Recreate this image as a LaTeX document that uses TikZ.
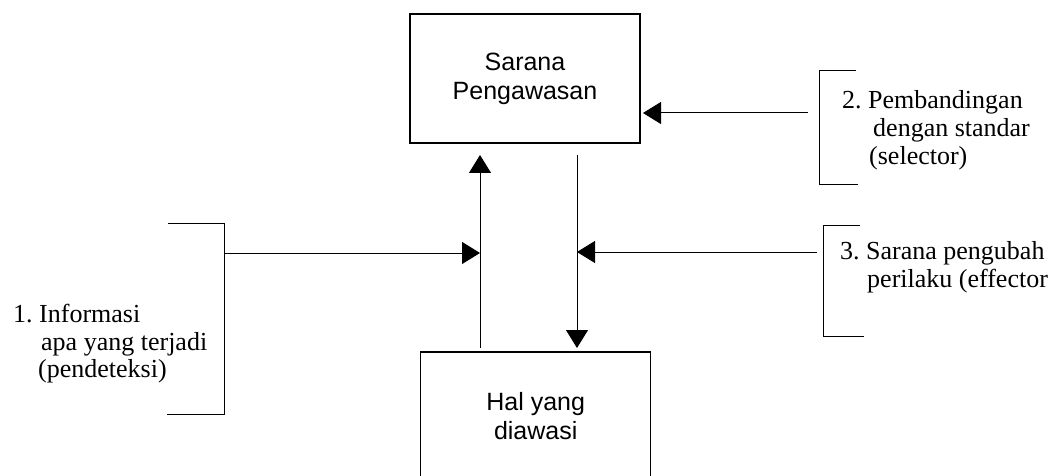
\documentclass[tikz,border=0pt]{standalone}
\usepackage{fontspec}
\setmainfont{Liberation Serif}
\newfontfamily\boxfont{Liberation Sans}
\usetikzlibrary{arrows.meta}
\frenchspacing
\begin{document}
\begin{tikzpicture}[x=1pt,y=-1pt,
  box/.style={draw,line width=1.2pt,minimum width=230pt,minimum height=129pt,inner sep=0pt,align=center,font=\boxfont\fontsize{25}{29}\selectfont},
  lbl/.style={anchor=base west,inner sep=0pt,font=\fontsize{26}{28}\selectfont},
  conn/.style={line width=1pt},
  arr/.style={conn,-{Triangle[length=18pt,width=22pt]}},
  brk/.style={line width=1pt}
]
\clip (0,0) rectangle (1061,476);
\fill[white] (0,0) rectangle (1061,476);
% boxes
\node[box] (sp) at (525,78.5) {Sarana\\Pengawasan};
\node[box] (hd) at (535.7,416.5) {Hal yang\\diawasi};
% vertical connector ends
\coordinate (upS) at (480,348);
\coordinate (upE) at (480,155);
\coordinate (dnS) at (577,155);
\coordinate (dnE) at (577,348);
\coordinate (upM) at (480,253);
\coordinate (dnM) at (577,252);
% brackets
\coordinate (b1) at (224,253);
\draw[brk] (168,223) -- (224,223) -- (224,414) -- (167,414);
\draw[brk] (856,71) -- (819,71) -- (819,185) -- (858,185);
\draw[brk] (860,225) -- (823,225) -- (823,336) -- (864,336);
\coordinate (a2s) at (808,113);
\coordinate (a2e) at (643,113);
\coordinate (a3s) at (817,252);
% connectors
\draw[arr] (upS) -- (upE);
\draw[arr] (dnS) -- (dnE);
\draw[arr] (b1) -- (upM);
\draw[arr] (a2s) -- (a2e);
\draw[arr] (a3s) -- (dnM);
% labels
\node[lbl] (t1a) at (13,322) {1. Informasi};
\node[lbl] (t1b) at (41,350) {apa yang terjadi};
\node[lbl] (t1c) at (38,377) {(pendeteksi)};
\node[lbl] (t2a) at (842,109) {2. Pembandingan};
\node[lbl] (t2b) at (873,137) {dengan standar};
\node[lbl] (t2c) at (869,165) {(selector)};
\node[lbl] (t3a) at (840,259) {3. Sarana pengubah};
\node[lbl] (t3b) at (867,287) {perilaku (effector};
\end{tikzpicture}
\end{document}
